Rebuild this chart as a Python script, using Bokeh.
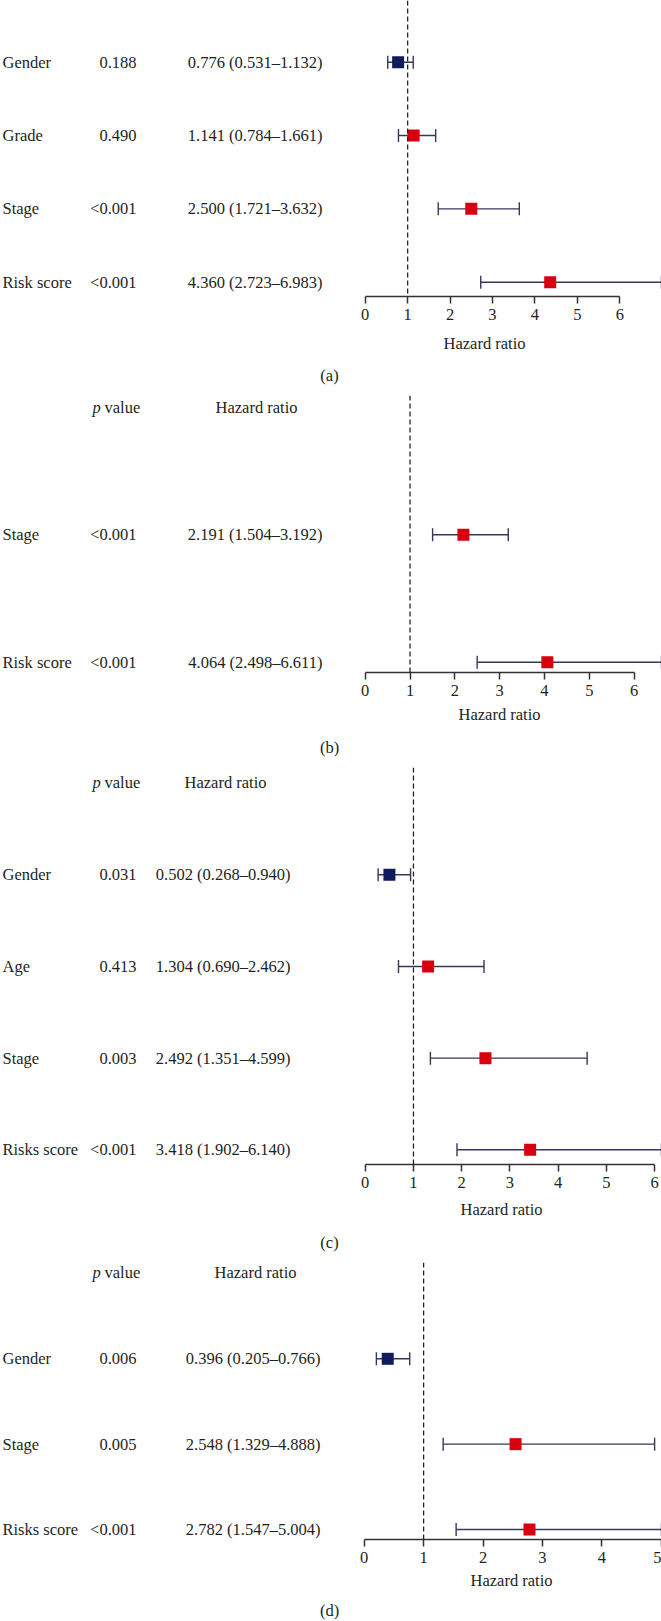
from bokeh.plotting import figure
from bokeh.models import (Range1d, ColumnDataSource, Whisker, TeeHead, Span,
                          LinearAxis, FixedTicker)
from bokeh.layouts import column
from bokeh.core.properties import value
from bokeh.embed import file_html
from bokeh.resources import INLINE

# ---------------- data ----------------
a_names = ["Gender", "Grade", "Stage", "Risk score"]
a_p = ["0.188", "0.490", "<0.001", "<0.001"]
a_hr = [0.776, 1.141, 2.500, 4.360]
a_lo = [0.531, 0.784, 1.721, 2.723]
a_hi = [1.132, 1.661, 3.632, 6.983]
a_ticks = [0, 1, 2, 3, 4, 5, 6]

b_names = ["Stage", "Risk score"]
b_p = ["<0.001", "<0.001"]
b_hr = [2.191, 4.064]
b_lo = [1.504, 2.498]
b_hi = [3.192, 6.611]
b_ticks = [0, 1, 2, 3, 4, 5, 6]

c_names = ["Gender", "Age", "Stage", "Risks score"]
c_p = ["0.031", "0.413", "0.003", "<0.001"]
c_hr = [0.502, 1.304, 2.492, 3.418]
c_lo = [0.268, 0.690, 1.351, 1.902]
c_hi = [0.940, 2.462, 4.599, 6.140]
c_ticks = [0, 1, 2, 3, 4, 5, 6]

d_names = ["Gender", "Stage", "Risks score"]
d_p = ["0.006", "0.005", "<0.001"]
d_hr = [0.396, 2.548, 2.782]
d_lo = [0.205, 1.329, 1.547]
d_hi = [0.766, 4.888, 5.004]
d_ticks = [0, 1, 2, 3, 4, 5]

captions = ["(a)", "(b)", "(c)", "(d)"]
header_p = "p"
header_p_rest = "value"
header_hr = "Hazard ratio"
x_label = "Hazard ratio"

# ---------------- layout / style ----------------
W = 661
SERIF = "Liberation Serif"
TXT = "#231f20"
RED = "#d7000e"
NAVY = "#101b5e"
BAR = "#36385a"
FS = "16.5px"
AXIS_BORDER = 31

layouts = [
    dict(top=0, end=390, frame_top=0, row_first=61.7, row_last=281.7, axis=296,
         header=None, xlab=(484, 343), caption=375, hr_right=322, hr_head=None, zero=364.7),
    dict(top=390, end=759, frame_top=395, row_first=534.3, row_last=661.7, axis=672,
         header=407, xlab=(499, 714), caption=747, hr_right=322, hr_head=256, zero=364.7),
    dict(top=759, end=1253, frame_top=766.7, row_first=874.3, row_last=1149.3, axis=1164.3,
         header=782, xlab=(501, 1209), caption=1241.7, hr_right=290, hr_head=225, zero=364.7),
    dict(top=1253, end=1621, frame_top=1261.7, row_first=1358.3, row_last=1529, axis=1539,
         header=1272, xlab=(511, 1580), caption=1610, hr_right=320, hr_head=255, zero=363.7),
]


def text_props():
    return dict(text_font=value(SERIF), text_font_size=FS, text_baseline="middle",
                text_color=TXT)


def panel(names, pvals, hr, lo, hi, ticks, caption, lay):
    n = len(names)
    top = lay["top"]
    ftop = round(lay["frame_top"] - top)
    faxis = round(lay["axis"] - top)
    H = faxis + AXIS_BORDER
    r0 = lay["row_first"] - top
    r1 = lay["row_last"] - top
    d = (r1 - r0) / (n - 1)
    yend = (n - 1) + (r0 - ftop) / d
    ystart = -(faxis - r1) / d
    xmax = max(hi)
    zero_px = lay["zero"]
    xstart = -xmax * zero_px / (W - zero_px)

    p = figure(width=W, height=H, x_range=Range1d(xstart, xmax),
               y_range=Range1d(ystart, yend), output_backend="svg",
               toolbar_location=None, x_axis_location=None, y_axis_location=None,
               min_border_left=0, min_border_right=0, min_border_top=ftop,
               min_border_bottom=AXIS_BORDER)
    p.outline_line_color = None
    p.background_fill_color = "white"
    p.border_fill_color = "white"
    p.xgrid.visible = False
    p.ygrid.visible = False
    p.extra_x_ranges = {"px": Range1d(0, W)}

    rows = [n - 1 - i for i in range(n)]
    hr_txt = ["%.3f (%.3f\u2013%.3f)" % (h, l, u) for h, l, u in zip(hr, lo, hi)]
    colors = [NAVY if h < 1 else RED for h in hr]
    src = ColumnDataSource(dict(y=rows, name=names, pv=pvals, hrt=hr_txt,
                                hr=hr, lo=lo, hi=hi, color=colors))

    # reference line at HR = 1
    p.add_layout(Span(location=1, dimension="height", line_dash="5 3",
                      line_color="#222222", line_width=1.3))

    # confidence intervals
    p.add_layout(Whisker(source=src, base="y", lower="lo", upper="hi", dimension="width",
                         line_color=BAR, line_width=1.4,
                         upper_head=TeeHead(size=13, line_color=BAR, line_width=1.4),
                         lower_head=TeeHead(size=13, line_color=BAR, line_width=1.4)))
    # point estimates
    p.scatter(x="hr", y="y", source=src, marker="square", size=12,
              fill_color="color", line_color=None)

    common = dict(source=src, y="y", x_range_name="px", **text_props())
    p.text(x=2, text="name", text_align="left", **common)
    p.text(x=136, text="pv", text_align="right", **common)
    p.text(x=lay["hr_right"], text="hrt", text_align="right", **common)

    # column headers
    if lay["header"] is not None:
        hy = (n - 1) + (r0 - (lay["header"] - top)) / d
        hp = dict(y=[hy], x_range_name="px", **text_props())
        p.text(x=[92], text=[header_p], text_align="left",
               text_font_style="italic", **hp)
        p.text(x=[104], text=[header_p_rest], text_align="left", **hp)
        p.text(x=[lay["hr_head"]], text=[header_hr], text_align="center", **hp)

    ax = LinearAxis(ticker=FixedTicker(ticks=ticks), bounds=(ticks[0], ticks[-1]))
    ax.axis_line_color = "#333333"
    ax.axis_line_width = 1.5
    ax.major_tick_line_color = "#333333"
    ax.major_tick_line_width = 1.5
    ax.major_tick_in = 0
    ax.major_tick_out = 7
    ax.minor_tick_in = 0
    ax.minor_tick_out = 0
    ax.major_label_standoff = 5
    ax.major_label_text_font = SERIF
    ax.major_label_text_font_size = FS
    ax.major_label_text_color = TXT
    p.add_layout(ax, "below")

    # strip under the axis: axis title and panel caption
    qtop = top + H
    qh = lay["end"] - qtop
    q = figure(width=W, height=qh, x_range=Range1d(0, W), y_range=Range1d(qh, 0),
               output_backend="svg", toolbar_location=None, x_axis_location=None,
               y_axis_location=None, min_border=0)
    q.outline_line_color = None
    q.xgrid.visible = False
    q.ygrid.visible = False
    q.text(x=[lay["xlab"][0]], y=[lay["xlab"][1] - qtop], text=[x_label],
           text_align="center", **text_props())
    q.text(x=[329], y=[lay["caption"] - qtop], text=[caption],
           text_align="center", **text_props())
    return [p, q]


figs = []
figs += panel(a_names, a_p, a_hr, a_lo, a_hi, a_ticks, captions[0], layouts[0])
figs += panel(b_names, b_p, b_hr, b_lo, b_hi, b_ticks, captions[1], layouts[1])
figs += panel(c_names, c_p, c_hr, c_lo, c_hi, c_ticks, captions[2], layouts[2])
figs += panel(d_names, d_p, d_hr, d_lo, d_hi, d_ticks, captions[3], layouts[3])

page = column(*figs, spacing=0)
open("out.html", "w").write(file_html(page, INLINE))
